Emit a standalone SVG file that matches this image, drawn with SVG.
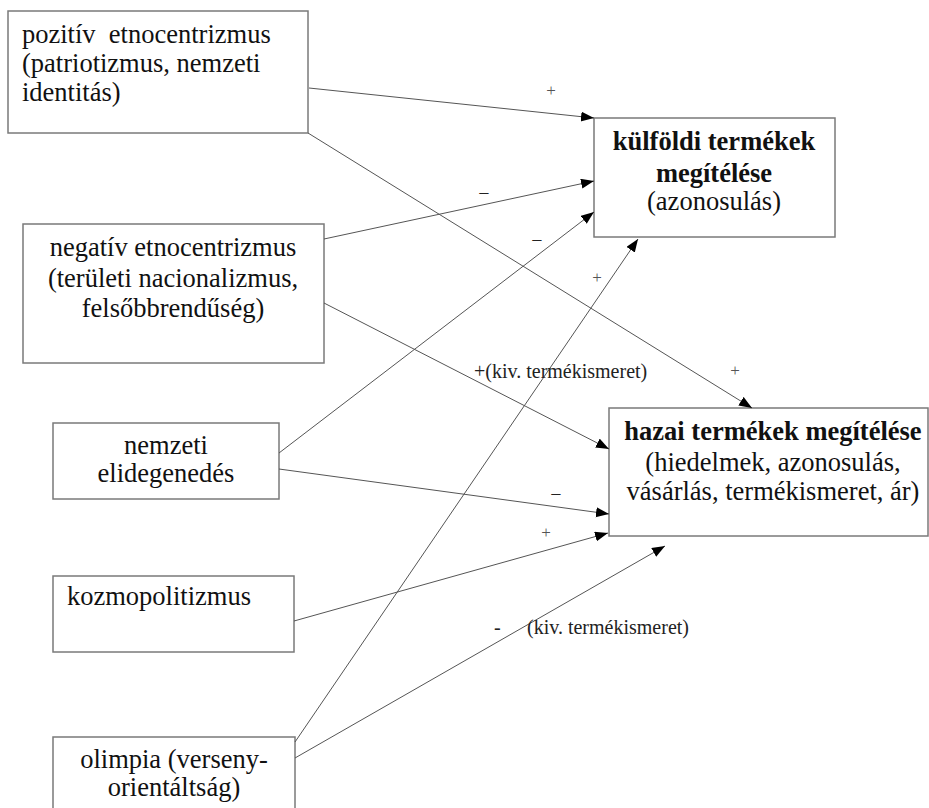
<svg xmlns="http://www.w3.org/2000/svg" width="929" height="808" viewBox="0 0 929 808">
<style>
.box{fill:#fff;stroke:#7a7a7a;stroke-width:1.5}
.t{font-family:'Liberation Serif','Times New Roman','DejaVu Serif',serif;font-size:26.5px;fill:#111}
.b{font-weight:bold}
.c{text-anchor:middle}
.lbl{font-family:'Liberation Serif','Times New Roman','DejaVu Serif',serif;font-size:20px;fill:#222}
.sm{font-family:'Liberation Serif','Times New Roman','DejaVu Serif',serif;font-size:17px;fill:#555}
.ln{stroke:#555;stroke-width:1;fill:none;marker-end:url(#ah)}
</style>
<defs>
<marker id="ah" markerUnits="userSpaceOnUse" markerWidth="14" markerHeight="12" refX="13" refY="5" orient="auto">
<path d="M0,0 L13,5 L0,10 z" fill="#000"/>
</marker>
</defs>
<rect width="929" height="808" fill="#fff"/>
<g id="n-pozitiv">
<rect class="box" x="8" y="11" width="300" height="122"/>
<text class="t" x="22" y="43" xml:space="preserve">pozitív  etnocentrizmus</text>
<text class="t" x="22" y="72">(patriotizmus, nemzeti</text>
<text class="t" x="22" y="101">identitás)</text>
</g>
<g id="n-negativ">
<rect class="box" x="23" y="224" width="301" height="139"/>
<text class="t c" x="173" y="256">negatív etnocentrizmus</text>
<text class="t c" x="173" y="287">(területi nacionalizmus,</text>
<text class="t c" x="173" y="317">felsőbbrendűség)</text>
</g>
<g id="n-kulfoldi">
<rect class="box" x="594" y="118" width="241" height="119"/>
<text class="t b c" x="714" y="150">külföldi termékek</text>
<text class="t b c" x="714" y="182">megítélése</text>
<text class="t c" x="714" y="210">(azonosulás)</text>
</g>
<g id="n-hazai">
<rect class="box" x="609" y="408" width="319" height="128"/>
<text class="t b c" x="773" y="440">hazai termékek megítélése</text>
<text class="t c" x="773" y="471">(hiedelmek, azonosulás,</text>
<text class="t c" x="773" y="500">vásárlás, termékismeret, ár)</text>
</g>
<g id="n-nemzeti">
<rect class="box" x="53" y="423" width="226" height="76"/>
<text class="t c" x="166" y="454">nemzeti</text>
<text class="t c" x="166" y="482">elidegenedés</text>
</g>
<g id="n-kozmo">
<rect class="box" x="53" y="576" width="241" height="76"/>
<text class="t" x="67" y="605">kozmopolitizmus</text>
</g>
<g id="n-olimpia">
<rect class="box" x="53" y="737" width="242" height="80"/>
<text class="t c" x="174" y="768">olimpia (verseny-</text>
<text class="t c" x="174" y="796">orientáltság)</text>
</g>
<g id="connectors">
<line class="ln" x1="309" y1="88" x2="594" y2="118"/>
<line class="ln" x1="308" y1="133" x2="752" y2="408"/>
<line class="ln" x1="324" y1="239" x2="594" y2="181"/>
<line class="ln" x1="324" y1="303" x2="609" y2="449"/>
<line class="ln" x1="279" y1="453" x2="594" y2="212"/>
<line class="ln" x1="279" y1="469" x2="609" y2="514"/>
<line class="ln" x1="294" y1="621" x2="608" y2="533"/>
<line class="ln" x1="295" y1="742" x2="638" y2="239"/>
<line class="ln" x1="295" y1="758" x2="665" y2="546"/>
</g>
<g id="labels">
<text class="sm c" x="551" y="96">+</text>
<text class="lbl c" x="484" y="200">−</text>
<text class="lbl c" x="537" y="247">−</text>
<text class="sm c" x="597" y="283">+</text>
<text class="lbl" x="474" y="378">+(kiv. termékismeret)</text>
<text class="sm c" x="735" y="376">+</text>
<text class="lbl c" x="556" y="501">−</text>
<text class="sm c" x="546" y="538">+</text>
<text class="lbl" x="494" y="634">-</text>
<text class="lbl" x="527" y="634">(kiv. termékismeret)</text>
</g>
</svg>
